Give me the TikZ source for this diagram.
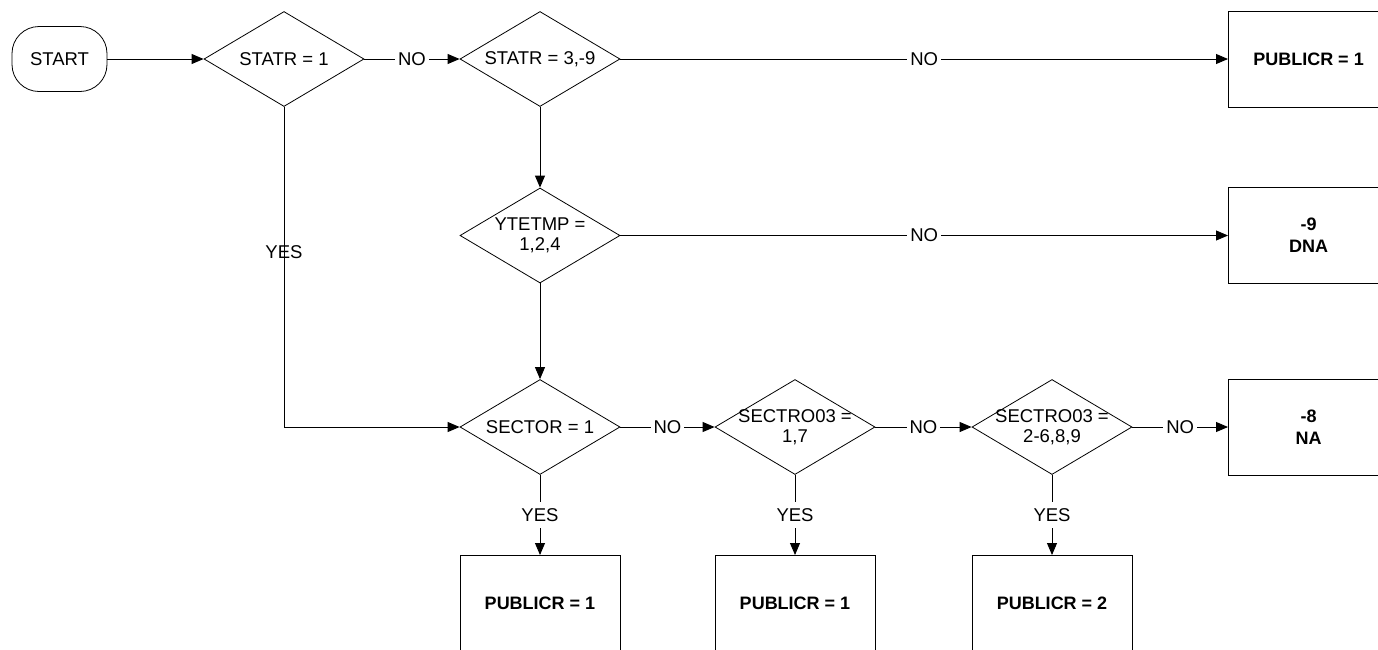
\documentclass[tikz,border=0pt]{standalone}
\usepackage{fontspec}
\setmainfont{Liberation Sans}
\usetikzlibrary{shapes.geometric,arrows.meta}
\begin{document}
\begin{tikzpicture}[x=1pt,y=-1pt,
  every node/.style={font=\fontsize{18.5}{20}\selectfont},
  arr/.style={line width=0.9pt, draw=black, -{Triangle[length=12pt,width=10pt]}},
  dia/.style={draw, line width=0.8pt, shape=diamond, minimum width=160pt, minimum height=95pt, inner sep=0pt},
  dtext/.style={align=center, inner sep=0pt},
  box/.style={draw, line width=1pt, rectangle, minimum width=160pt, minimum height=96pt, inner sep=0pt, align=center, font=\fontsize{18}{22}\selectfont\bfseries},
  lab/.style={fill=white, inner xsep=3pt, inner ysep=6pt},
  term/.style={draw, line width=0.8pt, rounded corners=27pt, minimum width=95pt, minimum height=65pt}
]
\path[use as bounding box, clip] (0,0) rectangle (1378,649);
\fill[white] (0,0) rectangle (1378,649);

\node[term] (start) at (59.5,59) {START};

\node[dia] (d1) at (284,59) {};
\node[dtext] (t1) at (d1) {STATR = 1};
\node[dia] (d2) at (540,59) {};
\node[dtext] (t2) at (d2) {STATR = 3,-9};
\node[dia] (d3) at (540,235.5) {};
\node[dtext] (t3) at (d3) {YTETMP =\\1,2,4};
\node[dia] (d4) at (540,427) {};
\node[dtext] (t4) at (d4) {SECTOR = 1};
\node[dia] (d5) at (795,427) {};
\node[dtext] (t5) at (d5) {SECTRO03 =\\1,7};
\node[dia] (d6) at (1052,427) {};
\node[dtext] (t6) at (d6) {SECTRO03 =\\2-6,8,9};

\node[box, anchor=west] (b1) at (1228,59) {PUBLICR = 1};
\node[box, anchor=west] (b2) at (1228,235.5) {-9\\DNA};
\node[box, anchor=west] (b3) at (1228,427) {-8\\NA};
\node[box, anchor=north] (b4) at (540,555) {PUBLICR = 1};
\node[box, anchor=north] (b5) at (795,555) {PUBLICR = 1};
\node[box, anchor=north] (b6) at (1052,555) {PUBLICR = 2};

\draw[arr] (start) -- (d1);
\draw[arr] (d1) -- node[lab]{NO} (d2);
\draw[arr] (d2) -- node[lab]{NO} (b1);
\draw[arr] (d2) -- (d3);
\draw[arr] (d3) -- node[lab]{NO} (b2);
\draw[arr] (d3) -- (d4);
\draw[arr] (d1.south) -- node[pos=0.453, inner sep=0pt]{YES} (d1.south |- d4.west) -- (d4.west);
\draw[arr] (d4) -- node[lab]{NO} (d5);
\draw[arr] (d5) -- node[lab]{NO} (d6);
\draw[arr] (d6) -- node[lab]{NO} (b3);
\draw[arr] (d4) -- node[lab]{YES} (b4);
\draw[arr] (d5) -- node[lab]{YES} (b5);
\draw[arr] (d6) -- node[lab]{YES} (b6);
\end{tikzpicture}
\end{document}
